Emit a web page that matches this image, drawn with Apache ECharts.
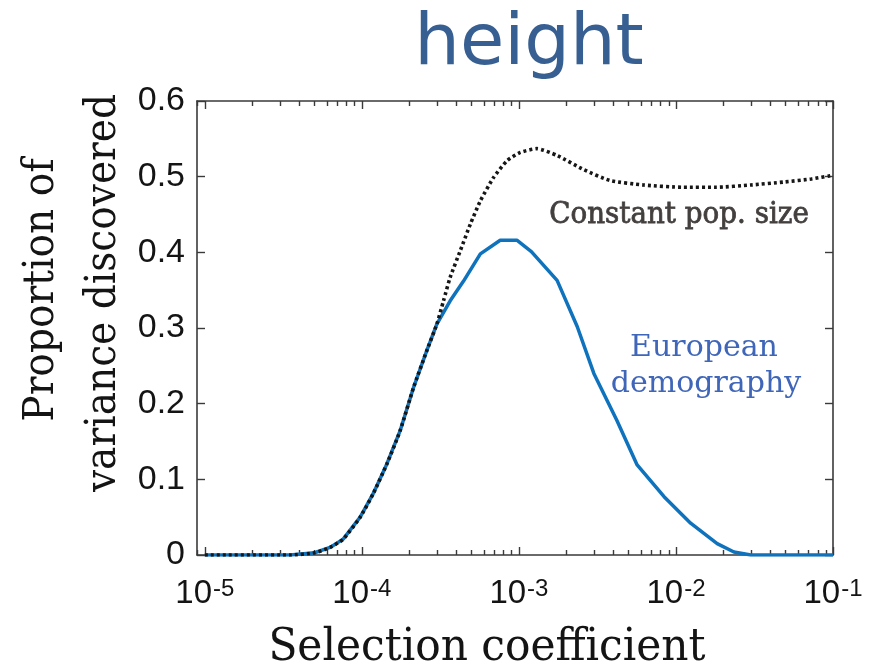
<!DOCTYPE html>
<html>
<head>
<meta charset="utf-8">
<script src="https://cdn.jsdelivr.net/npm/echarts@6/dist/echarts.min.js"></script>
<style>
  html, body { margin: 0; padding: 0; background: #ffffff; }
  #chart { width: 879px; height: 671px; }
</style>
</head>
<body>
<div id="chart"></div>
<script>
// Selection coefficient (s) and proportion of variance discovered, European demography model
const selEuro = [1e-5, 3.5e-5, 5.0e-5, 6.27e-5, 7.6e-5, 9.75e-5, 1.18e-4, 1.44e-4, 1.75e-4, 2.13e-4,
                 2.59e-4, 3.0e-4, 3.65e-4, 4.44e-4, 5.68e-4, 7.6e-4, 9.7e-4, 1.2e-3, 1.75e-3, 2.35e-3,
                 3.0e-3, 4.2e-3, 5.66e-3, 8.4e-3, 1.24e-2, 1.83e-2, 2.34e-2, 3.0e-2, 0.1];
const propEuro = [0, 0, 0.003, 0.010, 0.021, 0.050, 0.081, 0.120, 0.164, 0.221,
                  0.270, 0.305, 0.336, 0.362, 0.398, 0.416, 0.416, 0.401, 0.363, 0.302,
                  0.240, 0.178, 0.119, 0.077, 0.042, 0.015, 0.004, 0, 0];

// Constant population size model
const selConst = [1e-5, 3.5e-5, 5.0e-5, 6.27e-5, 7.6e-5, 9.75e-5, 1.18e-4, 1.44e-4, 1.75e-4, 2.13e-4,
                  2.59e-4, 3.0e-4, 3.31e-4, 3.65e-4, 4.23e-4, 4.9e-4, 5.68e-4, 6.9e-4, 8.4e-4, 1.02e-3,
                  1.3e-3, 1.75e-3, 2.6e-3, 3.8e-3, 6.2e-3, 1.12e-2, 1.8e-2, 3.0e-2, 4.9e-2, 7.3e-2, 0.1];
const propConst = [0, 0, 0.003, 0.010, 0.021, 0.050, 0.081, 0.120, 0.164, 0.221,
                   0.270, 0.305, 0.336, 0.367, 0.402, 0.437, 0.468, 0.499, 0.521, 0.532,
                   0.537, 0.528, 0.509, 0.495, 0.489, 0.486, 0.486, 0.489, 0.493, 0.497, 0.502];

// Decade exponents shown as 10^n tick labels
const decadeExps = [-5, -4, -3, -2, -1];

// The x axis runs in log10(s) space
const X_MIN = -5.05, X_MAX = -1;
const minorTicks = [];
for (let n = -6; n <= -2; n++) {
  for (let k = 2; k <= 9; k++) {
    const v = Math.log10(k) + n;
    if (v >= X_MIN && v <= X_MAX) minorTicks.push(v);
  }
}

const toPairs = (xs, ys) => xs.map((s, i) => [Math.log10(s), ys[i]]);

const AXIS_COLOR = '#3a3a3a';
const LABEL_COLOR = '#141414';

function xAxisDef(position, ticks, tickLen, withLine, withLabels) {
  return {
    type: 'value', position, min: X_MIN, max: X_MAX,
    splitLine: { show: false },
    axisLine: { show: withLine, lineStyle: { color: AXIS_COLOR, width: 1.6 } },
    axisTick: { show: true, inside: true, length: tickLen, customValues: ticks,
                lineStyle: { color: AXIS_COLOR, width: 1.4 } },
    axisLabel: withLabels ? {
      show: true, customValues: decadeExps, margin: 22,
      formatter: v => '{b|10}{s|' + Math.round(v) + '}',
      rich: {
        b: { fontSize: 33, fontFamily: 'Liberation Sans', color: LABEL_COLOR,
             lineHeight: 33, verticalAlign: 'bottom', padding: [12, 0, 0, 0] },
        s: { fontSize: 24, fontFamily: 'Liberation Sans', color: LABEL_COLOR,
             lineHeight: 24, verticalAlign: 'top', padding: [0, 0, 0, 1] }
      }
    } : { show: false }
  };
}

function yAxisDef(position, withLabels) {
  return {
    type: 'value', position, min: 0, max: 0.6, interval: 0.1,
    splitLine: { show: false },
    axisLine: { show: true, lineStyle: { color: AXIS_COLOR, width: 1.6 } },
    axisTick: { show: true, inside: true, length: 8, lineStyle: { color: AXIS_COLOR, width: 1.4 } },
    axisLabel: withLabels ? {
      show: true, margin: 12, fontSize: 34, fontFamily: 'Liberation Sans', color: LABEL_COLOR,
      formatter: v => (Math.abs(v) < 1e-9 ? '0' : v.toFixed(1))
    } : { show: false }
  };
}

const chart = echarts.init(document.getElementById('chart'), null, { renderer: 'canvas' });

chart.setOption({
  animation: false,
  backgroundColor: '#ffffff',
  grid: { left: 197, right: 46, top: 101, bottom: 116, containLabel: false },
  xAxis: [
    xAxisDef('bottom', decadeExps, 8, true, true),
    xAxisDef('bottom', minorTicks, 5, false, false),
    xAxisDef('top', decadeExps, 8, true, false),
    xAxisDef('top', minorTicks, 5, false, false)
  ],
  yAxis: [
    yAxisDef('left', true),
    yAxisDef('right', false)
  ],
  series: [
    {
      name: 'European demography', type: 'line', xAxisIndex: 0, yAxisIndex: 0,
      data: toPairs(selEuro, propEuro), showSymbol: false, smooth: false,
      lineStyle: { color: '#0f72bd', width: 3.5 }, z: 2
    },
    {
      name: 'Constant pop. size', type: 'line', xAxisIndex: 0, yAxisIndex: 0,
      data: toPairs(selConst, propConst), showSymbol: false, smooth: 0.2,
      lineStyle: { color: '#161616', width: 3.6, type: [3, 3], cap: 'butt' }, z: 3
    }
  ],
  graphic: [
    { type: 'text', x: 529, y: 45,
      style: { text: 'height', fontSize: 72, fontFamily: 'DejaVu Sans', fill: '#375f91',
               align: 'center', verticalAlign: 'middle' } },
    { type: 'text', x: 487, y: 648, scaleX: 0.94,
      style: { text: 'Selection coefficient', fontSize: 45, fontFamily: 'DejaVu Serif', fill: '#141414',
               align: 'center', verticalAlign: 'middle' } },
    { type: 'text', x: 42, y: 290, rotation: Math.PI / 2, scaleX: 0.91,
      style: { text: 'Proportion of', fontSize: 43, fontFamily: 'DejaVu Serif', fill: '#141414',
               align: 'center', verticalAlign: 'middle' } },
    { type: 'text', x: 104, y: 293, rotation: Math.PI / 2, scaleX: 0.91,
      style: { text: 'variance discovered', fontSize: 43, fontFamily: 'DejaVu Serif', fill: '#141414',
               align: 'center', verticalAlign: 'middle' } },
    { type: 'text', x: 679, y: 215, scaleX: 0.925,
      style: { text: 'Constant pop. size', fontSize: 30, fontFamily: 'DejaVu Serif',
               fill: '#433f3e', stroke: '#433f3e', lineWidth: 0.8,
               align: 'center', verticalAlign: 'middle' } },
    { type: 'text', x: 704, y: 348,
      style: { text: 'European', fontSize: 30, fontFamily: 'DejaVu Serif', fill: '#3f66b8',
               align: 'center', verticalAlign: 'middle' } },
    { type: 'text', x: 706, y: 384,
      style: { text: 'demography', fontSize: 30, fontFamily: 'DejaVu Serif', fill: '#3f66b8',
               align: 'center', verticalAlign: 'middle' } }
  ]
});
</script>
</body>
</html>
